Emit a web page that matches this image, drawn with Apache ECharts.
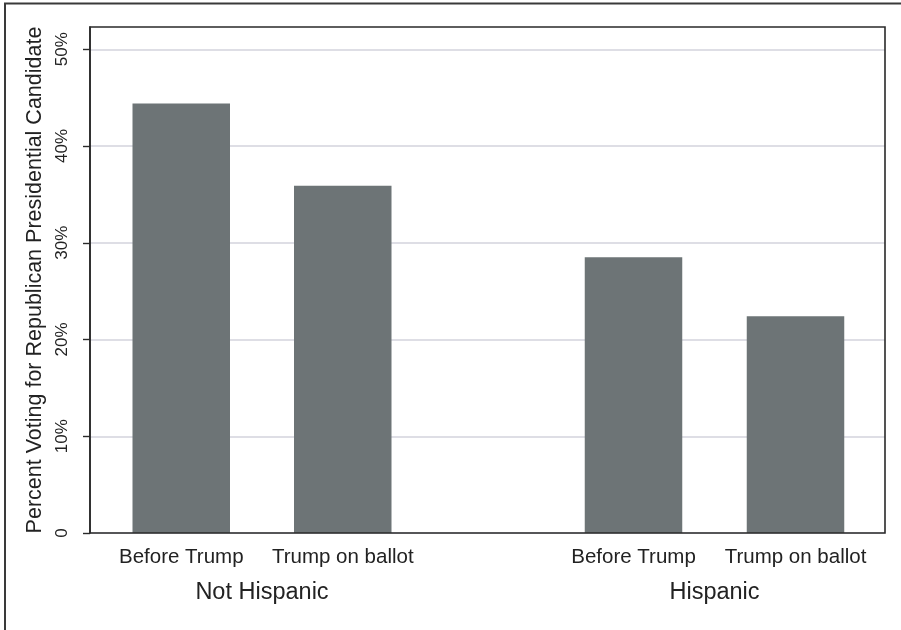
<!DOCTYPE html>
<html>
<head>
<meta charset="utf-8">
<script src="https://cdn.jsdelivr.net/npm/echarts@6/dist/echarts.min.js"></script>
<style>
html,body{margin:0;padding:0;background:#fff;}
#chart{width:901px;height:630px;}
</style>
</head>
<body>
<div id="chart"></div>
<script>
const groups = ['Not Hispanic', 'Hispanic'];
const periods = ['Before Trump', 'Trump on ballot'];
const notHispanicValues = [44.4, 35.9];
const hispanicValues = [28.5, 22.4];
const yTicks = [0, 10, 20, 30, 40, 50];
const yTitle = 'Percent Voting for Republican Presidential Candidate';

const FONT = '"Liberation Sans", Arial, Helvetica, sans-serif';
const TXT = '#222';
const BAR = '#6d7476';
const YMAX = 52.3;
const TOP = 27, BOTTOM = 97;

const chart = echarts.init(document.getElementById('chart'), null, {renderer: 'canvas'});

function subX(idx, name) {
  return {
    type: 'category', gridIndex: idx, data: periods,
    boundaryGap: true,
    axisLine: {show: false}, axisTick: {show: false}, splitLine: {show: false},
    axisLabel: {fontSize: 20.5, color: TXT, fontFamily: FONT, margin: 14, interval: 0},
    name: name, nameLocation: 'middle', nameGap: 48,
    nameTextStyle: {fontSize: 23.5, color: TXT, fontFamily: FONT}
  };
}
function subY(idx) {
  return {
    type: 'value', gridIndex: idx, min: 0, max: YMAX,
    show: false
  };
}

const option = {
  backgroundColor: '#fff',
  animation: false,
  graphic: [{
    type: 'rect', silent: true, z: 100,
    shape: {x: 5, y: 3.5, width: 1000, height: 1000},
    style: {fill: 'none', stroke: '#3a3a3a', lineWidth: 2}
  }],
  grid: [
    {left: 90, right: 16, top: TOP, bottom: BOTTOM, show: true, borderColor: '#2a2a2a', borderWidth: 1.6, backgroundColor: 'transparent', z: 3},
    {left: 100.5, width: 323, top: TOP, bottom: BOTTOM},
    {left: 552.5, width: 324, top: TOP, bottom: BOTTOM}
  ],
  xAxis: [
    {type: 'value', gridIndex: 0, min: 0, max: 1, show: false},
    subX(1, groups[0]),
    subX(2, groups[1])
  ],
  yAxis: [
    {
      type: 'value', gridIndex: 0, min: 0, max: YMAX, interval: 10,
      axisLine: {show: true, lineStyle: {color: '#2a2a2a', width: 1.6}},
      axisTick: {show: true, length: 7, lineStyle: {color: '#2a2a2a', width: 1.4}, customValues: yTicks},
      splitLine: {show: true, lineStyle: {color: '#d3d3dc', width: 1.5}},
      axisLabel: {
        rotate: 90, margin: 19, fontSize: 17, color: TXT, fontFamily: FONT,
        customValues: yTicks,
        formatter: function (v) { return yTicks.indexOf(v) < 0 ? '' : (v === 0 ? '0' : v + '%'); }
      },
      name: yTitle, nameLocation: 'middle', nameGap: 44, nameRotate: 90,
      nameTextStyle: {fontSize: 21.5, color: TXT, fontFamily: FONT}
    },
    subY(1),
    subY(2)
  ],
  series: [
    {type: 'bar', xAxisIndex: 1, yAxisIndex: 1, data: notHispanicValues, barWidth: 97.5,
     itemStyle: {color: BAR}, z: 2, silent: true},
    {type: 'bar', xAxisIndex: 2, yAxisIndex: 2, data: hispanicValues, barWidth: 97.5,
     itemStyle: {color: BAR}, z: 2, silent: true}
  ]
};
chart.setOption(option);
</script>
</body>
</html>
